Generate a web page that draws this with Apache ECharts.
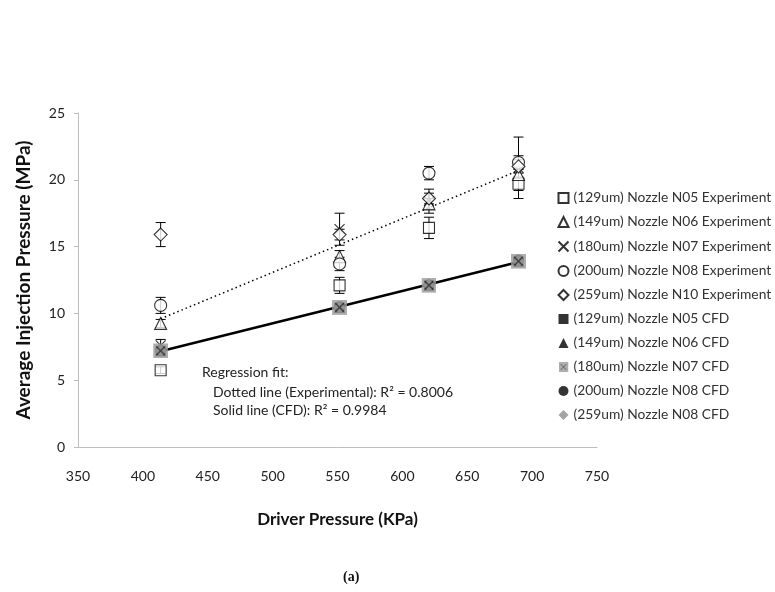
<!DOCTYPE html>
<html>
<head>
<meta charset="utf-8">
<script src="https://cdn.jsdelivr.net/npm/echarts@6/dist/echarts.min.js"></script>
<style>
  html, body { margin: 0; padding: 0; background: #fff; }
  #chart { width: 775px; height: 592px; }
</style>
</head>
<body>
<div id="chart"></div>
<script>
// Driver pressure settings (KPa)
const driverPressure = [413.7, 551.6, 620.5, 689.5];

// Measured average injection pressure (MPa) per nozzle
const expN05 = [5.75, 12.1, 16.4, 19.7];
const expN06 = [9.25, 14.25, 18.2, 20.4];
const expN07 = [7.6, 16.3, 18.4, 20.9];
const expN08 = [10.6, 13.7, 20.5, 21.3];
const expN10 = [15.9, 15.9, 18.6, 21.0];

// Half-width of the measurement error bars (MPa)
const errN05 = [0.25, 0.6, 0.8, 0.5];
const errN06 = [0.3, 0.45, 0.4, 0.4];
const errN07 = [0.45, 1.2, 0.9, 2.3];
const errN08 = [0.6, 0.5, 0.5, 0.5];
const errN10 = [0.9, 0.4, 0.4, 0.5];

// CFD predictions (MPa)
const cfdN05 = [7.2, 10.45, 12.1, 13.9];
const cfdN06 = [7.2, 10.45, 12.1, 13.9];
const cfdN07 = [7.2, 10.45, 12.1, 13.9];
const cfdN08 = [7.25, 10.5, 12.15, 14.0];
const cfdN10 = [7.2, 10.45, 12.1, 13.9];

const xTicks = { min: 350, max: 750, step: 50 };
const yTicks = { min: 0, max: 25, step: 5 };

const FONT = 'Lato, "Open Sans", sans-serif';

const pairs = (ys) => driverPressure.map((x, i) => [x, ys[i]]);

// Least-squares line through a set of [x, y] points, drawn across the data range
function fitLine(points) {
  const n = points.length;
  let sx = 0, sy = 0, sxx = 0, sxy = 0;
  points.forEach(([x, y]) => { sx += x; sy += y; sxx += x * x; sxy += x * y; });
  const slope = (n * sxy - sx * sy) / (n * sxx - sx * sx);
  const icpt = (sy - slope * sx) / n;
  const xs = points.map(p => p[0]);
  const x0 = Math.min(...xs), x1 = Math.max(...xs);
  return [[x0, icpt + slope * x0], [x1, icpt + slope * x1]];
}

const expAll = [expN05, expN06, expN07, expN08, expN10].flatMap(pairs);
const cfdAll = [cfdN05, cfdN06, cfdN07, cfdN08, cfdN10].flatMap(pairs);

function errorData(ys, errs) {
  return driverPressure.map((x, i) => [x, ys[i] - errs[i], ys[i] + errs[i]]);
}

function renderErrorBar(params, api) {
  const x = api.value(0);
  const top = api.coord([x, api.value(2)]);
  const bot = api.coord([x, api.value(1)]);
  const w = 5;
  const st = { stroke: '#000', lineWidth: 1 };
  return {
    type: 'group',
    children: [
      { type: 'line', shape: { x1: top[0], y1: top[1], x2: bot[0], y2: bot[1] }, style: st },
      { type: 'line', shape: { x1: top[0] - w, y1: top[1], x2: top[0] + w, y2: top[1] }, style: st },
      { type: 'line', shape: { x1: bot[0] - w, y1: bot[1], x2: bot[0] + w, y2: bot[1] }, style: st }
    ]
  };
}

const grayCross = 'image://data:image/svg+xml;charset=utf-8,' + encodeURIComponent(
  "<svg xmlns='http://www.w3.org/2000/svg' width='16' height='16'>" +
  "<rect x='0' y='0' width='16' height='16' fill='#9a9a9a'/>" +
  "<path d='M3.5,3.5L12.5,12.5M12.5,3.5L3.5,12.5' stroke='#3a3a3a' stroke-width='1.6'/>" +
  "</svg>");
const crossPath = 'path://M0,0L10,10M10,0L0,10';

const names = [
  '(129um) Nozzle N05 Experiment',
  '(149um) Nozzle N06 Experiment',
  '(180um) Nozzle N07 Experiment',
  '(200um) Nozzle N08 Experiment',
  '(259um) Nozzle N10 Experiment',
  '(129um) Nozzle N05 CFD',
  '(149um) Nozzle N06 CFD',
  '(180um) Nozzle N07 CFD',
  '(200um) Nozzle N08 CFD',
  '(259um) Nozzle N08 CFD'
];

const openStyle = { color: '#fff', borderColor: '#000', borderWidth: 1.1 };

function scatter(name, ys, symbol, size, itemStyle, z) {
  return {
    name, type: 'scatter', data: pairs(ys), symbol, symbolSize: size,
    itemStyle, z, emphasis: { disabled: true }, animation: false
  };
}
function errSeries(ys, errs) {
  return {
    type: 'custom', renderItem: renderErrorBar, data: errorData(ys, errs),
    z: 3, silent: true, animation: false
  };
}

const chart = echarts.init(document.getElementById('chart'), null, { renderer: 'canvas' });
chart.setOption({
  backgroundColor: '#fff',
  animation: false,
  grid: { left: 78, right: 178, top: 113, bottom: 145 },
  xAxis: {
    type: 'value', min: xTicks.min, max: xTicks.max, interval: xTicks.step,
    name: 'Driver Pressure (KPa)', nameLocation: 'middle', nameGap: 64,
    nameTextStyle: { fontFamily: FONT, fontSize: 17, fontWeight: 'bold', color: '#111' },
    axisLine: { lineStyle: { color: '#bdbdbd', width: 1 } },
    axisTick: { show: false },
    axisLabel: { fontFamily: FONT, fontSize: 14, color: '#222', margin: 22 },
    splitLine: { show: false }
  },
  yAxis: {
    type: 'value', min: yTicks.min, max: yTicks.max, interval: yTicks.step,
    name: 'Average Injection Pressure (MPa)', nameLocation: 'middle', nameGap: 45,
    nameTextStyle: { fontFamily: FONT, fontSize: 19, fontWeight: 'bold', color: '#111' },
    axisLine: { show: true, lineStyle: { color: '#bdbdbd', width: 1 } },
    axisTick: { show: true, length: 4, lineStyle: { color: '#bdbdbd' } },
    axisLabel: { fontFamily: FONT, fontSize: 14, color: '#222', margin: 13 },
    splitLine: { show: false }
  },
  legend: {
    data: names, orient: 'vertical', left: 551, top: 186,
    itemWidth: 10, itemHeight: 10, itemGap: 10,
    textStyle: { fontFamily: FONT, fontSize: 13.8, lineHeight: 14, color: '#333' },
    selectedMode: false
  },
  graphic: [
    { type: 'text', left: 202, top: 365, style: { text: 'Regression fit:', font: '14px ' + FONT, fill: '#222' } },
    { type: 'text', left: 213, top: 385, style: { text: 'Dotted line (Experimental): R\u00B2 = 0.8006', font: '14px ' + FONT, fill: '#222' } },
    { type: 'text', left: 213, top: 403, style: { text: 'Solid line (CFD): R\u00B2 = 0.9984', font: '14px ' + FONT, fill: '#222' } },
    { type: 'text', left: 343, top: 570, style: { text: '(a)', font: 'bold 14px "Liberation Serif", serif', fill: '#111' } }
  ],
  series: [
    // regression lines
    { type: 'line', data: fitLine(expAll), symbol: 'none', z: 1, silent: true,
      lineStyle: { color: '#000', width: 1.5, type: [1.5, 3] } },
    { type: 'line', data: fitLine(cfdAll), symbol: 'none', z: 1, silent: true,
      lineStyle: { color: '#000', width: 2.4 } },
    // error bars
    errSeries(expN05, errN05), errSeries(expN06, errN06), errSeries(expN07, errN07),
    errSeries(expN08, errN08), errSeries(expN10, errN10),
    // measurements
    scatter(names[0], expN05, 'rect', 11, openStyle, 5),
    scatter(names[1], expN06, 'triangle', 12, openStyle, 5),
    scatter(names[2], expN07, crossPath, 10, { color: 'none', borderColor: '#000', borderWidth: 1.1 }, 5),
    scatter(names[3], expN08, 'circle', 12, openStyle, 5),
    scatter(names[4], expN10, 'diamond', 13, openStyle, 5),
    // CFD predictions
    scatter(names[5], cfdN05, 'rect', 10, { color: '#000' }, 6),
    scatter(names[6], cfdN06, 'triangle', 11, { color: '#000' }, 6),
    scatter(names[8], cfdN08, 'circle', 11, { color: '#000' }, 6),
    scatter(names[9], cfdN10, 'diamond', 12, { color: '#8c8c8c' }, 6),
    scatter(names[7], cfdN07, grayCross, 15, {}, 7)
  ]
});
</script>
</body>
</html>
